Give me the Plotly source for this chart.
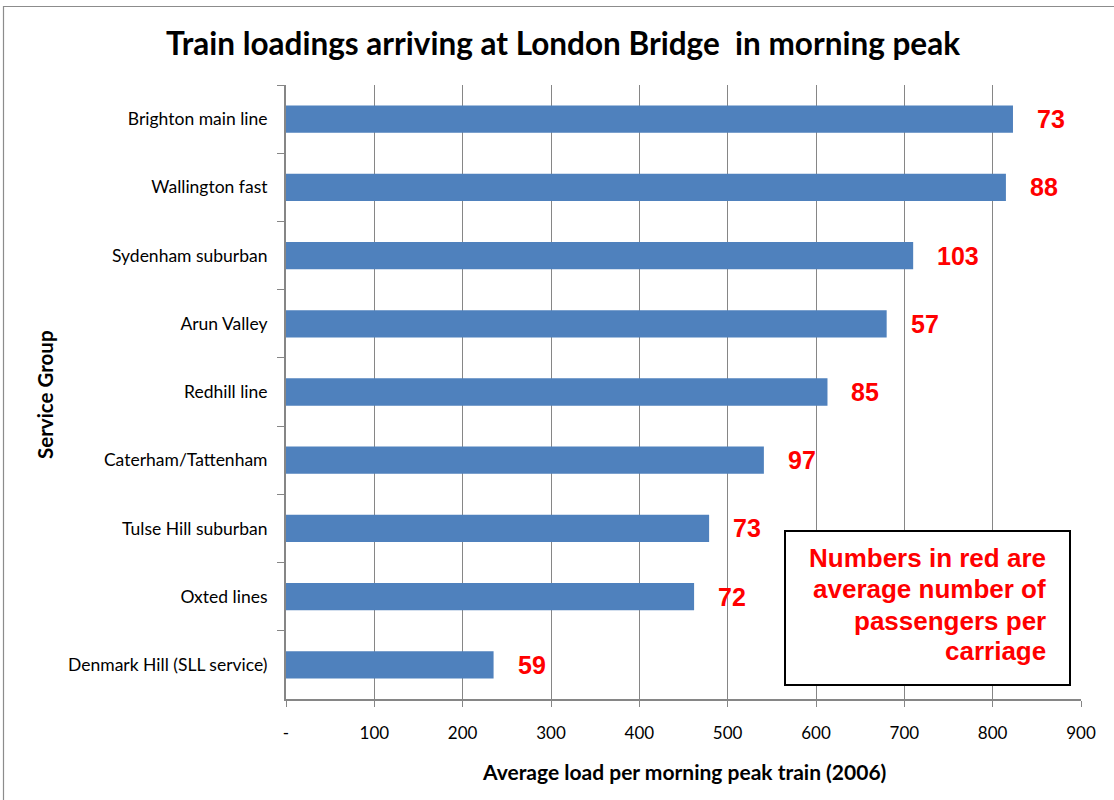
import plotly.graph_objects as go

# Service groups, top to bottom as shown on the chart
service_groups = [
    "Brighton main line",
    "Wallington fast",
    "Sydenham suburban",
    "Arun Valley",
    "Redhill line",
    "Caterham/Tattenham",
    "Tulse Hill suburban",
    "Oxted lines",
    "Denmark Hill (SLL service)",
]
# Average load per morning peak train (2006)
avg_load = [823, 815, 710, 680, 613, 541, 479, 462, 235]
# Average number of passengers per carriage
per_carriage = [73, 88, 103, 57, 85, 97, 73, 72, 59]

x_ticks = [0, 100, 200, 300, 400, 500, 600, 700, 800, 900]
x_tick_text = ["-", "100", "200", "300", "400", "500", "600", "700", "800", "900"]

note_lines = ["Numbers in red are", "average number of", "passengers per", "carriage"]

W, H = 1114, 800
L, R, T, B = 286, 33, 85, 101
PW, PH = W - L - R, H - T - B


def px_x(px):
    return (px - L) / PW


def px_y(py):
    return (H - B - py) / PH


BAR = "#4F81BD"
GRID = "#868686"
TXT = "Lato"
RED_FONT = "Liberation Sans, Arial"

fig = go.Figure(
    go.Bar(
        x=avg_load,
        y=service_groups,
        orientation="h",
        marker=dict(color=BAR, line=dict(width=0)),
        hoverinfo="x+y",
    )
)

annotations = []
for g, v, n in zip(service_groups, avg_load, per_carriage):
    annotations.append(dict(
        x=v, y=g, xref="x", yref="y", text=f"<b>{n}</b>",
        showarrow=False, xanchor="left", yanchor="middle", xshift=22,
        font=dict(family=RED_FONT, size=25, color="#FF0000"),
    ))

annotations += [
    dict(x=px_x(563), y=px_y(43), xref="paper", yref="paper",
         text="<b>Train loadings arriving at London Bridge  in morning peak</b>",
         showarrow=False, xanchor="center", yanchor="middle",
         font=dict(family=TXT, size=31.5, color="#000000")),
    dict(x=px_x(45), y=px_y(395), xref="paper", yref="paper",
         text="<b>Service Group</b>", textangle=-90,
         showarrow=False, xanchor="center", yanchor="middle",
         font=dict(family=TXT, size=20.5, color="#000000")),
    dict(x=px_x(684), y=px_y(771), xref="paper", yref="paper",
         text="<b>Average load per morning peak train (2006)</b>",
         showarrow=False, xanchor="center", yanchor="middle",
         font=dict(family=TXT, size=21, color="#000000")),
]

# note text, right aligned inside the box, one line per annotation
for line, yc in zip(note_lines, [558, 589, 621, 651]):
    annotations.append(dict(
        x=px_x(1048), y=px_y(yc), xref="paper", yref="paper",
        text=f"<b>{line}</b>", showarrow=False,
        xanchor="right", yanchor="middle",
        font=dict(family=RED_FONT, size=26, color="#FF0000"),
    ))

shapes = [
    # outer chart frame
    dict(type="rect", xref="paper", yref="paper",
         x0=px_x(3.5), x1=px_x(1120), y0=px_y(6.5), y1=px_y(806),
         line=dict(color="#8C8C8C", width=1.2), fillcolor="rgba(0,0,0,0)", layer="below"),
    # note box
    dict(type="rect", xref="paper", yref="paper",
         x0=px_x(785), x1=px_x(1070), y0=px_y(531), y1=px_y(685),
         line=dict(color="#000000", width=2), fillcolor="#FFFFFF", layer="above"),
]

fig.update_layout(
    width=W, height=H,
    margin=dict(l=L, r=R, t=T, b=B, pad=0),
    paper_bgcolor="#FFFFFF", plot_bgcolor="#FFFFFF",
    bargap=0.6,
    showlegend=False,
    annotations=annotations,
    shapes=shapes,
    font=dict(family=TXT, color="#000000"),
)

fig.update_xaxes(
    range=[0, 900], tickvals=x_ticks, ticktext=x_tick_text,
    showgrid=True, gridcolor=GRID, gridwidth=1,
    showline=True, linecolor=GRID, linewidth=2,
    ticks="outside", ticklen=6, tickcolor=GRID, tickwidth=1,
    tickfont=dict(family=TXT, size=17, color="#000000"),
    ticklabelstandoff=12,
    zeroline=False, fixedrange=True,
)
fig.update_yaxes(
    type="category", categoryorder="array", categoryarray=service_groups,
    autorange="reversed",
    showgrid=False,
    showline=True, linecolor=GRID, linewidth=2,
    ticks="outside", ticklen=7, tickcolor=GRID, tickwidth=1,
    tickson="boundaries",
    tickfont=dict(family=TXT, size=17.5, color="#000000"),
    ticklabelstandoff=13,
    fixedrange=True,
)

fig.write_html("out.html")
